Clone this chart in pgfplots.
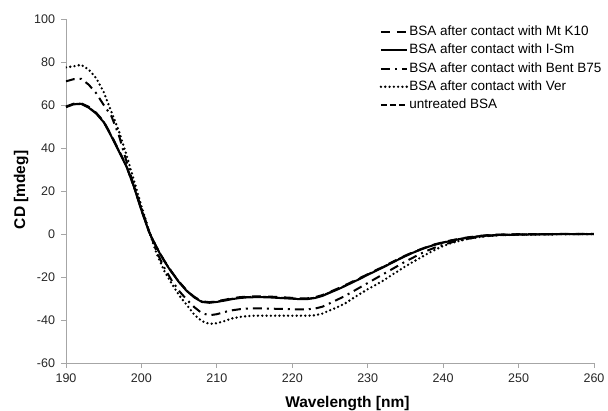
\documentclass[border=0pt]{standalone}
\usepackage{pgfplots}
\pgfplotsset{compat=1.18}
\usepackage{pgfplotstable}
\usepackage{fontspec}
\setmainfont{Liberation Sans}

\pgfplotstableread{
x y
190 59
191 60.3
192 60.5
193 58.8
194 56
195 52
196 45.5
197 38.5
198 31.5
199 22
200 11
201 1
202 -6.3
203 -12.5
204 -17.8
205 -22.5
206 -26.5
207 -29.5
208 -31.6
209 -32
210 -31.6
211 -31
212 -30.3
213 -29.8
214 -29.5
215 -29.4
216 -29.4
217 -29.5
218 -29.7
219 -29.9
220 -30.1
221 -30.3
222 -30.3
223 -29.8
224 -28.8
225 -27.3
226 -25.8
227 -24.2
228 -22.5
229 -20.8
230 -19
231 -17.3
232 -15.6
233 -13.8
234 -12
235 -10.3
236 -8.7
237 -7.3
238 -6
239 -4.9
240 -4
241 -3.2
242 -2.5
243 -1.9
244 -1.4
245 -1
246 -0.7
247 -0.5
248 -0.4
250 -0.3
252 -0.2
255 -0.1
260 0
}\ism

\pgfplotstableread{
x y
190 59.3
191 60.6
192 60.8
193 59.2
194 56.4
195 52.4
196 46
197 39
198 31.8
199 22.3
200 11.3
201 1.2
202 -6
203 -12.2
204 -17.5
205 -22.2
206 -26.2
207 -29.2
208 -31.3
209 -31.7
210 -31.3
211 -30.6
212 -29.9
213 -29.4
214 -29.1
215 -29
216 -29
217 -29.1
218 -29.3
219 -29.5
220 -29.7
221 -29.9
222 -29.9
223 -29.4
224 -28.4
225 -26.9
226 -25.4
227 -23.8
228 -22.1
229 -20.4
230 -18.7
231 -17
232 -15.3
233 -13.5
234 -11.7
235 -10
236 -8.5
237 -7.1
238 -5.8
239 -4.7
240 -3.8
241 -3
242 -2.3
243 -1.7
244 -1.2
245 -0.8
246 -0.5
247 -0.3
248 -0.2
250 -0.1
252 0
255 0
260 0.1
}\mtk

\pgfplotstableread{
x y
190 59.1
191 60.4
192 60.7
193 59
194 56.2
195 52.2
196 45.8
197 38.8
198 31.6
199 22.1
200 11.1
201 1.1
202 -6.1
203 -12.3
204 -17.6
205 -22.3
206 -26.3
207 -29.3
208 -31.4
209 -31.8
210 -31.4
211 -30.8
212 -30.1
213 -29.6
214 -29.3
215 -29.2
216 -29.2
217 -29.3
218 -29.5
219 -29.7
220 -29.9
221 -30.1
222 -30.1
223 -29.6
224 -28.6
225 -27.1
226 -25.6
227 -24
228 -22.3
229 -20.6
230 -18.8
231 -17.1
232 -15.4
233 -13.6
234 -11.8
235 -10.1
236 -8.6
237 -7.2
238 -5.9
239 -4.8
240 -3.9
241 -3.1
242 -2.4
243 -1.8
244 -1.3
245 -0.9
246 -0.6
247 -0.4
248 -0.3
250 -0.2
252 -0.1
255 0
260 0
}\untr

\pgfplotstableread{
x y
190 71
191 72
192 72.2
193 69.5
194 65.5
195 60
196 55
197 46
198 34
199 22.5
200 12
201 1.5
202 -8
203 -15.5
204 -21.5
205 -26.5
206 -30.5
207 -34
208 -36.8
209 -37.8
210 -37.3
211 -36.3
212 -35.5
213 -35
214 -34.7
215 -34.6
216 -34.6
217 -34.7
218 -34.8
219 -34.9
220 -35
221 -35
222 -35
223 -34.7
224 -33.8
225 -32.2
226 -30.5
227 -28.8
228 -26.8
229 -24.8
230 -22.8
231 -20.8
232 -18.8
233 -16.8
234 -14.8
235 -12.8
236 -11
237 -9.2
238 -7.6
239 -6.2
240 -5
241 -4
242 -3.1
243 -2.4
244 -1.8
245 -1.3
246 -0.9
247 -0.6
248 -0.5
250 -0.3
255 -0.1
260 0
}\bent

\pgfplotstableread{
x y
190 77.5
191 78
192 78.7
193 76.5
194 72.5
195 66
196 57
197 48
198 37
199 25
200 13
201 1.5
202 -9
203 -17
204 -23
205 -28.5
206 -33
207 -37.5
208 -40.5
209 -41.8
210 -41.5
211 -40.5
212 -39.3
213 -38.6
214 -38.2
215 -38
216 -38
217 -38
218 -38
219 -38
220 -38
221 -38
222 -38
223 -37.8
224 -37
225 -35.5
226 -34
227 -32.3
228 -30
229 -27.8
230 -25.7
231 -23.8
232 -21.8
233 -19.5
234 -17.3
235 -15
236 -13
237 -11
238 -9
239 -7.2
240 -5.6
241 -4.3
242 -3.3
243 -2.5
244 -1.8
245 -1.3
246 -0.9
247 -0.6
248 -0.5
250 -0.3
255 -0.1
260 0
}\ver

\begin{document}
\begin{tikzpicture}
\begin{axis}[
  scale only axis,
  width=528pt, height=344pt,
  xmin=190, xmax=260, ymin=-60, ymax=100,
  xtick={190,200,...,260}, ytick={-60,-40,...,100},
  axis x line*=bottom, axis y line*=left,
  axis line style={draw=gray!70, line width=0.9pt, -},
  tick align=outside, major tick length=5pt,
  tick style={draw=gray!70, line width=0.9pt},
  /pgf/number format/assume math mode=true,
  ticklabel style={font=\fontsize{12.5}{13}\selectfont, text=black!85},
  xticklabel style={yshift=-2.5pt},
  yticklabel style={xshift=-2.5pt},
  every axis x label/.style={at={(axis description cs:0.533,-0.130)}, anchor=base},
  every axis y label/.style={at={(axis description cs:-0.085,0.503)}, rotate=90, anchor=center},
  xlabel={\textbf{Wavelength [nm]}},
  ylabel={\textbf{CD [mdeg]}},
  label style={font=\fontsize{15.5}{16}\selectfont},
  legend style={at={(rel axis cs:0.588,0.987)}, anchor=north west, draw=none, fill=none,
    font=\fontsize{13.5}{14}\selectfont, row sep=5.2pt,
    nodes={inner xsep=1pt, inner ysep=0pt, text height=10pt, text depth=3pt, xshift=-3.5pt}},
  legend cell align=left,
  legend image code/.code={\draw[#1] (0pt,0pt) -- (26pt,0pt);},
]
\coordinate (bl) at (rel axis cs:0,0);
\addplot[black, line width=2pt, dash pattern=on 9pt off 7pt] table[x=x,y=y] {\mtk};
\addlegendentry{BSA after contact with Mt K10}
\addplot[black, line width=2pt] table[x=x,y=y] {\ism};
\addlegendentry{BSA after contact with I-Sm}
\addplot[black, line width=2pt, dash pattern=on 9pt off 5pt on 2pt off 5pt] table[x=x,y=y] {\bent};
\addlegendentry{BSA after contact with Bent B75}
\addplot[black, line width=2.6pt, line cap=round, dash pattern=on 0pt off 4.3pt] table[x=x,y=y] {\ver};
\addlegendentry{BSA after contact with Ver}
\addplot[black, line width=1.8pt, dash pattern=on 6pt off 3pt] table[x=x,y=y] {\untr};
\addlegendentry{untreated BSA}
\end{axis}
\pgfresetboundingbox
\path ([shift={(-66pt,-47pt)}]bl) rectangle ([shift={(542pt,363pt)}]bl);
\end{tikzpicture}
\end{document}
